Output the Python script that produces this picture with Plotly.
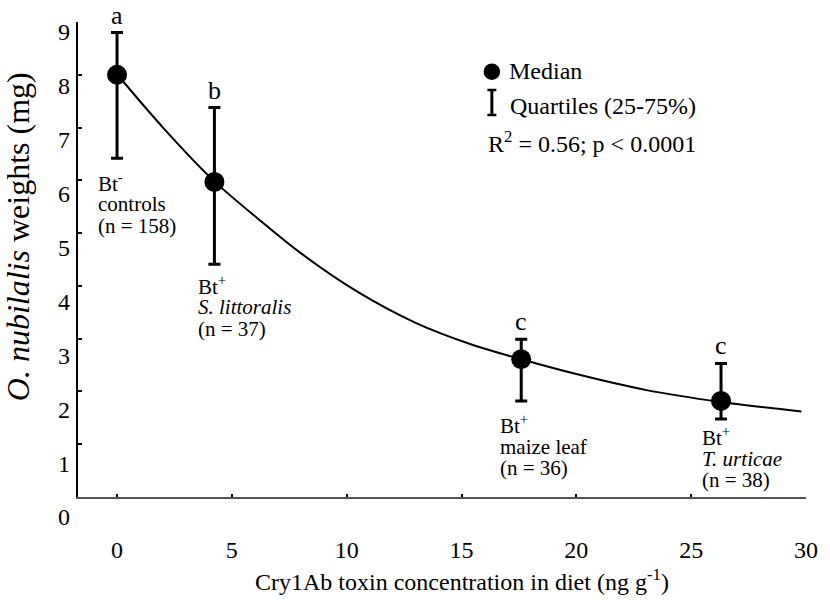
import plotly.graph_objects as go

# Group medians with 25th/75th percentiles of larval weight (mg)
toxin_conc = [0.0, 4.24, 17.6, 26.3]
median_wt = [8.0, 5.97, 2.61, 1.82]
q75_wt = [8.8, 7.38, 2.99, 2.53]
q25_wt = [6.42, 4.41, 1.82, 1.48]
group_letters = ["a", "b", "c", "c"]
group_labels = [
    ["Bt<sup>-</sup>", "controls", "(n = 158)"],
    ["Bt<sup>+</sup>", "<i>S. littoralis</i>", "(n = 37)"],
    ["Bt<sup>+</sup>", "maize leaf", "(n = 36)"],
    ["Bt<sup>+</sup>", "<i>T. urticae</i>", "(n = 38)"],
]

# Fitted regression curve
fit_x = [0.0, 2.0, 4.24, 6.2, 8.0, 10.5, 13.0, 15.5, 17.6, 20.0, 23.0, 26.3, 29.8]
fit_y = [8.01, 7.0, 5.98, 5.25, 4.62, 3.88, 3.30, 2.88, 2.61, 2.33, 2.03, 1.80, 1.62]

x_ticks = [0, 5, 10, 15, 20, 25, 30]
y_ticks = list(range(10))

fit_stats = "R<sup>2</sup> = 0.56; p &lt; 0.0001"

# ---- page geometry (pixels) ----
W, H = 830, 600
L, R, T, B = 78, 22, 22, 60
PW, PH = W - L - R, H - T - B
AXIS_Y = 497  # pixel row of the x axis line
FONT = "Liberation Serif, Times New Roman, serif"


def px_x(px):
    return (px - L) / PW


def px_y(py):
    return (H - B - py) / PH


# offsets of the group captions (below the lower quartile)
cap_xshift = [-21, -18, -23, -21]
cap_yshift = [24, 21, 24, 18]
cap_step = 21.7

fig = go.Figure()

fig.add_trace(go.Scatter(
    x=fit_x, y=fit_y, mode="lines",
    line=dict(color="black", width=2, shape="spline", smoothing=0.8),
    showlegend=False, hoverinfo="skip",
))

fig.add_trace(go.Scatter(
    x=toxin_conc, y=median_wt, mode="markers",
    marker=dict(color="black", size=20),
    error_y=dict(
        type="data", symmetric=False,
        array=[hi - m for hi, m in zip(q75_wt, median_wt)],
        arrayminus=[m - lo for m, lo in zip(median_wt, q25_wt)],
        color="black", thickness=3, width=6,
    ),
    showlegend=False,
))

# label-only axis for the weight scale
fig.add_trace(go.Scatter(x=[None], y=[None], yaxis="y2", showlegend=False, hoverinfo="skip"))

annotations = []
for i, xv in enumerate(toxin_conc):
    annotations.append(dict(
        x=xv, y=q75_wt[i], xref="x", yref="y", text=group_letters[i],
        showarrow=False, xanchor="center", yanchor="bottom", yshift=1,
        font=dict(family=FONT, size=26, color="black"),
    ))
    for j, line in enumerate(group_labels[i]):
        annotations.append(dict(
            x=xv, y=q25_wt[i], xref="x", yref="y", text=line,
            showarrow=False, xanchor="left", yanchor="middle",
            xshift=cap_xshift[i], yshift=-(cap_yshift[i] + j * cap_step),
            font=dict(family=FONT, size=21, color="black"),
        ))

# legend block
legend_font = dict(family=FONT, size=24, color="black")
annotations += [
    dict(x=px_x(508), y=px_y(71), xref="paper", yref="paper", text="Median",
         showarrow=False, xanchor="left", yanchor="middle", font=legend_font),
    dict(x=px_x(509), y=px_y(106), xref="paper", yref="paper", text="Quartiles (25-75%)",
         showarrow=False, xanchor="left", yanchor="middle", font=legend_font),
    dict(x=px_x(487), y=px_y(142), xref="paper", yref="paper", text=fit_stats,
         showarrow=False, xanchor="left", yanchor="middle", font=legend_font),
]

# axis titles
annotations += [
    dict(x=15, y=px_y(580), xref="x", yref="paper",
         text="Cry1Ab toxin concentration in diet (ng g<sup>-1</sup>)",
         showarrow=False, xanchor="center", yanchor="middle",
         font=dict(family=FONT, size=24, color="black")),
    dict(x=px_x(18), y=px_y(237), xref="paper", yref="paper",
         text="<i>O. nubilalis</i> weights (mg)", textangle=-90,
         showarrow=False, xanchor="center", yanchor="middle",
         font=dict(family=FONT, size=32, color="black")),
]

shapes = [
    dict(type="circle", xref="paper", yref="paper",
         x0=px_x(493 - 8.3), x1=px_x(493 + 8.3), y0=px_y(71.7 + 8.3), y1=px_y(71.7 - 8.3),
         fillcolor="black", line=dict(color="black", width=0)),
    dict(type="line", xref="paper", yref="paper",
         x0=px_x(493), x1=px_x(493), y0=px_y(90), y1=px_y(115),
         line=dict(color="black", width=3)),
    dict(type="line", xref="paper", yref="paper",
         x0=px_x(488.5), x1=px_x(497.5), y0=px_y(90), y1=px_y(90),
         line=dict(color="black", width=2.5)),
    dict(type="line", xref="paper", yref="paper",
         x0=px_x(488.5), x1=px_x(497.5), y0=px_y(115), y1=px_y(115),
         line=dict(color="black", width=2.5)),
]

tick_font = dict(family=FONT, size=24, color="black")

fig.update_layout(
    width=W, height=H,
    margin=dict(l=L, r=R, t=T, b=B),
    font=dict(family=FONT, color="black"),
    paper_bgcolor="white", plot_bgcolor="rgba(0,0,0,0)",
    showlegend=False,
    annotations=annotations,
    shapes=shapes,
    xaxis=dict(
        range=[-1.7, 30.0], tickvals=x_ticks, ticks="inside", ticklen=3,
        tickwidth=1.5, tickcolor="black", showline=True, linecolor="#555555",
        linewidth=2, showgrid=False, zeroline=False, tickfont=tick_font,
        ticklabelstandoff=30, anchor="y",
    ),
    yaxis=dict(
        range=[0, 9], domain=[px_y(AXIS_Y), 1], tickvals=y_ticks,
        showticklabels=False, ticks="inside", ticklen=4, tickwidth=1.5,
        tickcolor="black", showline=True, linecolor="black", linewidth=1.5,
        showgrid=False, zeroline=False,
    ),
    yaxis2=dict(
        range=[(517 - (H - B)) / 53.9, (517 - T) / 53.9], domain=[0, 1],
        anchor="free", position=0, tickvals=y_ticks, ticks="",
        showline=False, showgrid=False, zeroline=False, tickfont=tick_font,
        ticklabelstandoff=8,
    ),
)

fig.write_html("out.html")
